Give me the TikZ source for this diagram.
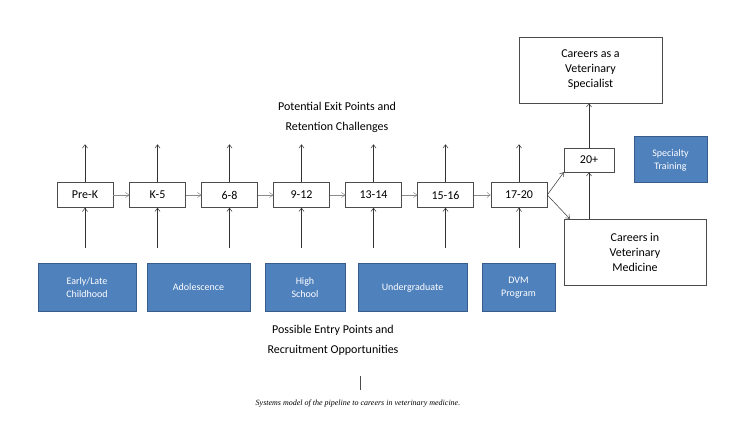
\documentclass[tikz,border=0pt]{standalone}
\usepackage{fontspec}
\setmainfont{Carlito}
\newfontfamily\capfont{Liberation Serif}
\usetikzlibrary{arrows.meta, positioning}
\definecolor{entryblue}{HTML}{4F81BD}
\definecolor{entryedge}{HTML}{385D8A}
\tikzstyle{line} = [draw, -{Straight Barb[length=1.2mm,width=1.8mm]}, line width=0.5pt]
\tikzstyle{stage} = [rectangle, draw=black!70, fill=white, minimum width=56pt, minimum height=25pt, inner sep=0pt, font=\fontsize{12}{14}\selectfont]
\tikzstyle{entry} = [rectangle, draw=entryedge, line width=1pt, fill=entryblue, text=white, inner sep=0pt, align=center, font=\fontsize{10}{13}\selectfont]
\tikzstyle{career} = [rectangle, draw=black!70, fill=white, inner sep=0pt, align=center, font=\fontsize{12}{15}\selectfont]

\begin{document}
\begin{tikzpicture}[x=1pt, y=-1pt]
    \useasboundingbox (0,0) rectangle (751,427);

    \node [stage] (prek) at (85,195) {Pre-K};
    \node [stage] (k5) at (157.5,195) {K-5};
    \node [stage] (g68) at (229.5,195) {6-8};
    \node [stage] (g912) at (301.5,195) {9-12};
    \node [stage] (y1314) at (373.5,195) {13-14};
    \node [stage] (y1516) at (445.5,195) {15-16};
    \node [stage] (y1720) at (519,195) {17-20};

    \node [entry, minimum width=98pt, minimum height=47pt] (early) at (87,287.5) {Early/Late\\Childhood};
    \node [entry, minimum width=103pt, minimum height=47pt] (adol) at (198.5,287.5) {Adolescence};
    \node [entry, minimum width=80pt, minimum height=47pt] (high) at (305,287.5) {High\\School};
    \node [entry, minimum width=109pt, minimum height=47pt] (under) at (412.5,287.5) {Undergraduate};
    \node [entry, minimum width=73pt, minimum height=47pt] (dvm) at (518.5,287.5) {DVM\\Program};

    \node [stage, minimum width=50pt, minimum height=24pt] (plus) at (589,160) {20+};
    \node [career, minimum width=143pt, minimum height=66pt] (spec) at (590.5,70) {Careers as a\\Veterinary\\Specialist};
    \node [career, minimum width=142pt, minimum height=66pt] (vetmed) at (635,252) {Careers in\\Veterinary\\Medicine};
    \node [entry, minimum width=73pt, minimum height=46pt] (spectrain) at (670.5,160) {Specialty\\Training};

    \node [align=center, font=\fontsize{12}{20}\selectfont] (exit) at (337,117) {Potential Exit Points and\\Retention Challenges};
    \node [align=center, font=\fontsize{12}{20}\selectfont] (entrytxt) at (333,340) {Possible Entry Points and\\Recruitment Opportunities};
    \node [font=\capfont\itshape\fontsize{8}{10}\selectfont] (caption) at (358,404) {Systems model of the pipeline to careers in veterinary medicine.};
    \coordinate (tick) at (360,376);
    \draw [black!70] (tick) -- ++(0,14);

    % stage to stage
    \foreach \a/\b in {prek/k5, k5/g68, g68/g912, g912/y1314, y1314/y1516, y1516/y1720}
      \path [line, color=black!45] (\a) -- (\b);

    % exits and entries
    \foreach \s in {prek, k5, g68, g912, y1314, y1516, y1720} {
      \path [line, color=black!80] (\s.north) -- ++(0,-38);
      \path [line, color=black!80] ([yshift=-40pt]\s.south) -- (\s.south);
    }

    \path [line, color=black!80] (y1720.east) -- (plus.south west);
    \path [line, color=black!80] (y1720.east) -- ([xshift=6pt]vetmed.north west);
    \path [line, color=black!80] (plus.north) -- (spec.south -| plus.north);
    \path [line, color=black!80] (vetmed.north -| plus.south) -- (plus.south);
\end{tikzpicture}
\end{document}
